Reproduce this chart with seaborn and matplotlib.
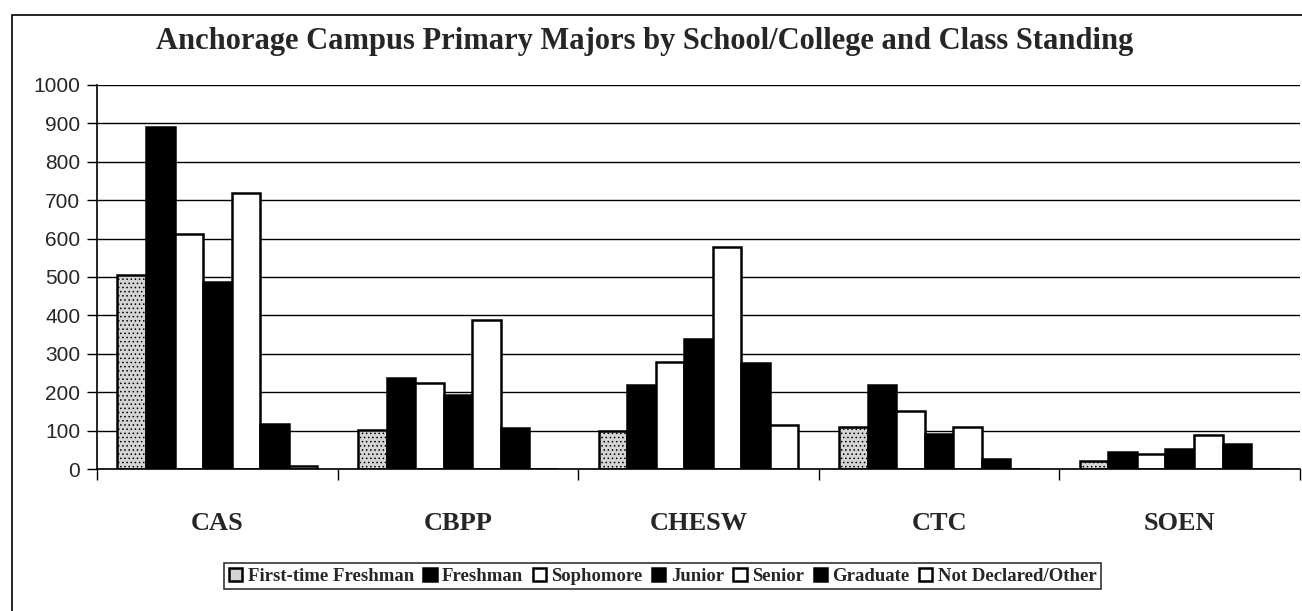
import matplotlib
matplotlib.use("Agg")
import matplotlib.pyplot as plt
import seaborn as sns
import pandas as pd
from matplotlib.patches import Rectangle

# Данные
schools = ['CAS', 'CBPP', 'CHESW', 'CTC', 'SOEN']
standings = ['First-time Freshman', 'Freshman', 'Sophomore', 'Junior',
             'Senior', 'Graduate', 'Not Declared/Other']
first_time = [505, 102, 98, 110, 22]
freshman = [890, 238, 218, 220, 45]
sophomore = [612, 223, 279, 152, 38]
junior = [488, 192, 338, 92, 52]
senior = [718, 387, 577, 110, 88]
graduate = [117, 106, 276, 25, 65]
not_declared = [8, 0, 114, 0, 0]

values = [first_time, freshman, sophomore, junior, senior, graduate, not_declared]
rows = []
for st, vals in zip(standings, values):
    for sc, v in zip(schools, vals):
        rows.append({'School': sc, 'Standing': st, 'Count': v})
df = pd.DataFrame(rows)

colors = ['#d4d4d4', 'black', 'white', 'black', 'white', 'black', 'white']

sns.set_style("white")
plt.rcParams['font.family'] = ['Liberation Serif', 'DejaVu Serif']
plt.rcParams['hatch.color'] = '#8a8a8a'
plt.rcParams['hatch.linewidth'] = 0.6

fig = plt.figure(figsize=(13.02, 6.11), dpi=100)
ax = fig.add_axes([0.0745, 0.2324, 0.924, 0.6285])

sns.barplot(data=df, x='School', y='Count', hue='Standing', order=schools,
            hue_order=standings, palette=colors, edgecolor='black',
            linewidth=1.8, width=0.83, ax=ax, legend=True)

# крапинка у первокурсников
for bar in ax.containers[0]:
    bar.set_hatch('....')
    bar.set_edgecolor('black')

ax.set_xlim(-0.5, 4.5)
ax.set_ylim(0, 1000)
ax.set_yticks(range(0, 1001, 100))
ax.set_yticklabels([str(v) for v in range(0, 1001, 100)],
                   family='Liberation Sans', fontsize=15)
ax.yaxis.grid(True, color='black', linewidth=1)
ax.set_axisbelow(True)
ax.tick_params(axis='y', direction='out', length=7, width=1, color='black', pad=5, left=True)

ax.set_xticks(range(5))
ax.set_xticklabels(schools, fontweight='bold', fontsize=19)
ax.set_xticks([-0.5, 0.5, 1.5, 2.5, 3.5, 4.5], minor=True)
ax.tick_params(axis='x', which='major', length=0, pad=31)
ax.tick_params(axis='x', which='minor', direction='out', length=8, width=1,
               color='black', bottom=True)

ax.set_xlabel('')
ax.set_ylabel('')
for s in ['top', 'right']:
    ax.spines[s].set_visible(False)
for s in ['left', 'bottom']:
    ax.spines[s].set_color('black')
    ax.spines[s].set_linewidth(1.2)

fig.suptitle('Anchorage Campus Primary Majors by School/College and Class Standing',
             fontweight='bold', fontsize=22, x=0.495, y=0.955)

ax.legend(loc='center', bbox_to_anchor=(0.509, 0.057), bbox_transform=fig.transFigure,
          ncol=7, frameon=True, fancybox=False, edgecolor='black',
          prop={'weight': 'bold', 'size': 13.5}, handlelength=0.7, handleheight=0.7,
          handletextpad=0.3, columnspacing=0.5, borderpad=0.25, borderaxespad=0)
ax.get_legend().get_frame().set_linewidth(1.2)

# рамка вокруг всей диаграммы
fig.patches.append(Rectangle((0.0095, -0.01), 0.995, 0.985, transform=fig.transFigure,
                             fill=False, edgecolor='black', linewidth=1.2))

plt.savefig("out.png", dpi=100)
